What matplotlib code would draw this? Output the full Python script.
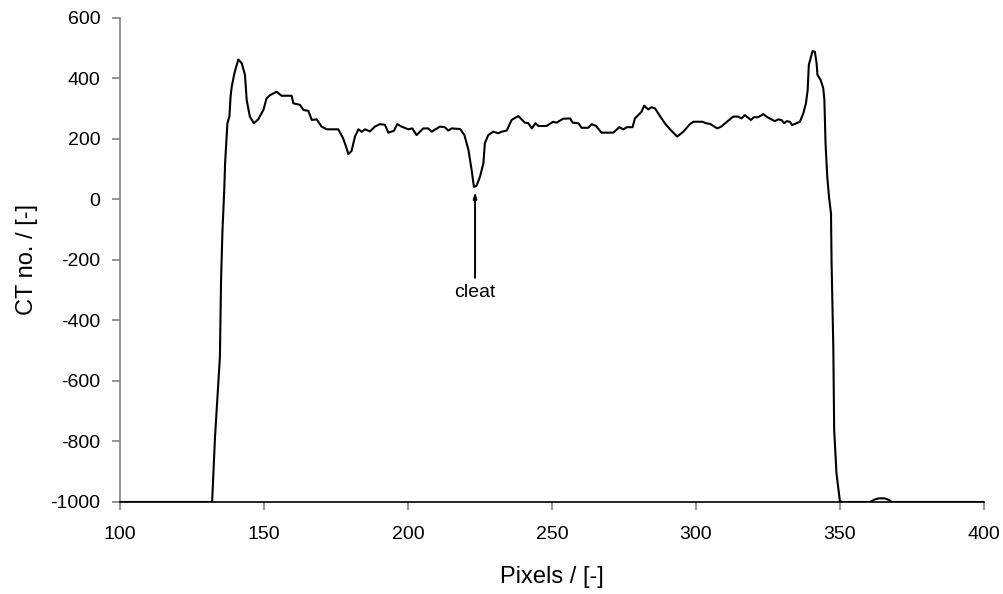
import matplotlib
matplotlib.use("Agg")
import matplotlib.pyplot as plt

plt.rcParams['font.family'] = ['Liberation Sans', 'DejaVu Sans']
plt.rcParams['axes.unicode_minus'] = False

pixels = [100, 120, 131.5, 132.0, 133.0, 134.7, 135.1, 135.6, 136.2, 136.5, 137.3, 138.0, 138.4, 138.8, 139.8,
          141.1, 142.3, 143.4, 144.0, 145.1, 146.5, 148.0, 149.8, 150.9, 152.1, 154.4, 156.1, 159.6, 160.2,
          162.5, 163.7, 165.4, 166.6, 168.3, 170.0, 171.8, 175.8, 177.5, 178.5, 179.3, 180.4, 181.6, 182.8,
          183.9, 185.1, 186.8, 188.5, 190.3, 192.0, 193.2, 195.1, 196.3, 197.8, 200.1, 201.5, 203.0, 205.3,
          207.0, 208.2, 211.1, 212.8, 214.0, 215.2, 218.1, 219.6, 221.0, 222.1, 222.9, 223.8, 225.0, 226.2,
          226.7, 227.9, 229.6, 231.4, 232.5, 234.3, 236.0, 238.3, 240.6, 241.8, 243.0, 244.3, 245.3, 248.1,
          250.4, 251.6, 253.9, 256.3, 257.2, 259.2, 260.3, 262.6, 263.8, 265.3, 267.2, 271.3, 273.4, 274.8,
          276.0, 278.0, 278.8, 281.1, 282.0, 283.4, 284.6, 285.8, 287.5, 289.2, 291.0, 293.5, 295.6, 297.9,
          299.1, 302.3, 303.5, 304.9, 307.4, 308.8, 312.9, 314.6, 315.8, 317.0, 319.1, 320.1, 321.6, 323.4,
          324.8, 327.4, 328.6, 329.8, 330.6, 331.5, 332.6, 333.4, 334.9, 336.1, 337.3, 338.2, 338.8, 339.2,
          340.5, 341.3, 341.9, 342.2, 343.3, 344.2, 344.6, 345.0, 345.6, 346.2, 346.9, 347.1, 347.7, 348.0,
          348.8, 350.0, 351, 360.4, 362.0, 363.5, 365.5, 367.0, 368.0, 380, 400]
ct_no = [-1000, -1000, -1000, -1000, -785, -520, -266, -100, 30, 120, 252, 274, 340, 373, 420,
         463, 450, 412, 329, 274, 252, 265, 296, 334, 345, 356, 343, 343, 318,
         313, 296, 293, 263, 265, 241, 232, 232, 202, 175, 150, 160, 208, 232,
         224, 232, 225, 241, 249, 247, 221, 227, 249, 241, 232, 235, 213, 235,
         235, 224, 241, 239, 228, 235, 233, 213, 164, 98, 42, 45, 75, 120,
         186, 213, 224, 219, 224, 228, 263, 276, 254, 252, 235, 252, 243, 243,
         257, 254, 267, 268, 254, 252, 237, 237, 249, 243, 221, 221, 239, 232,
         239, 239, 268, 290, 310, 298, 305, 301, 276, 252, 232, 208, 224, 249,
         257, 257, 252, 250, 235, 241, 274, 274, 268, 279, 263, 272, 272, 282,
         272, 259, 265, 262, 252, 259, 257, 246, 252, 257, 285, 318, 362, 445,
         491, 488, 450, 412, 395, 368, 330, 186, 75, 9, -46, -211, -487, -762,
         -905, -998, -1000, -1000, -992, -988, -988, -993, -1000, -1000, -1000]

cleat_x = 223.3
cleat_tip = 35
cleat_tail = -268

fig = plt.figure(figsize=(10.04, 5.94), dpi=100)
ax = fig.add_axes([0.1195, 0.1549, 0.8605, 0.8148])
ax.plot(pixels, ct_no, color='black', lw=1.5)
ax.set_xlim(100, 400)
ax.set_ylim(-1000, 600)
ax.set_xticks(range(100, 401, 50))
ax.set_yticks(range(-1000, 601, 200))
for s in ['top', 'right']:
    ax.spines[s].set_visible(False)
ax.spines['left'].set_color('#808080')
ax.spines['left'].set_linewidth(1.2)
ax.spines['bottom'].set_color('black')
ax.spines['bottom'].set_linewidth(1.2)
ax.tick_params(axis='both', direction='out', length=6, width=1.2, color='#808080',
               labelsize=14)
ax.tick_params(axis='x', pad=11)
ax.tick_params(axis='y', pad=8)
ax.set_xlabel('Pixels / [-]', fontsize=17, labelpad=17)
ax.set_ylabel('CT no. / [-]', fontsize=17, labelpad=9)

ax.annotate('', xy=(cleat_x, cleat_tip), xytext=(cleat_x, cleat_tail),
            arrowprops=dict(arrowstyle='-|>,head_length=0.35,head_width=0.1', color='black', lw=1.4))
ax.text(cleat_x, cleat_tail - 12, 'cleat', ha='center', va='top', fontsize=14)

fig.savefig('out.png', dpi=100)
